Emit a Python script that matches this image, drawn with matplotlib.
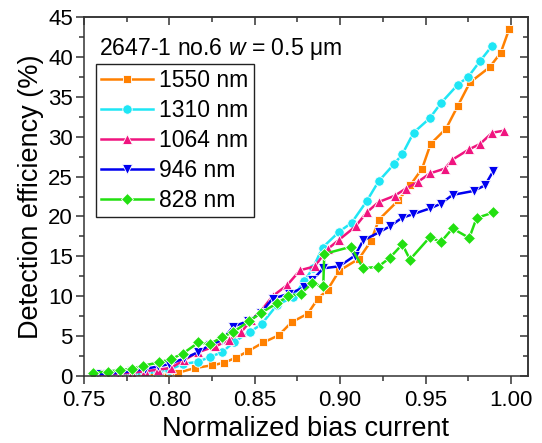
import numpy as np
import matplotlib
matplotlib.use('Agg')
import matplotlib.pyplot as plt
from matplotlib.ticker import MultipleLocator, NullFormatter

plt.rcParams['font.family'] = ['Liberation Sans', 'DejaVu Sans']
plt.rcParams['mathtext.fontset'] = 'custom'
plt.rcParams['mathtext.rm'] = 'Liberation Sans'
plt.rcParams['mathtext.it'] = 'Liberation Sans:italic'

# 1550 nm
x1550 = [0.757, 0.764, 0.771, 0.778, 0.786, 0.793, 0.799, 0.805, 0.815, 0.825,
         0.832, 0.839, 0.846, 0.855, 0.864, 0.8716, 0.881, 0.887, 0.8926, 0.8995,
         0.911, 0.918, 0.9227, 0.934, 0.941, 0.948, 0.953, 0.962, 0.969, 0.976,
         0.9875, 0.994, 0.999]
y1550 = [0.0, 0.0, 0.0, 0.05, 0.1, 0.15, 0.2, 0.4, 1.0, 1.34,
         1.66, 2.3, 3.1, 4.2, 5.1, 6.75, 7.8, 9.7, 10.8, 13.2,
         14.7, 16.9, 19.6, 22.0, 23.9, 26.0, 29.1, 31.0, 33.9, 36.8,
         38.7, 40.5, 43.5]

# 1310 nm
x1310 = [0.757, 0.764, 0.771, 0.778, 0.786, 0.7935, 0.800, 0.808, 0.817, 0.824,
         0.831, 0.838, 0.847, 0.854, 0.863, 0.8725, 0.879, 0.884, 0.8897, 0.8995,
         0.9067, 0.9155, 0.9225, 0.9317, 0.9364, 0.943, 0.9524, 0.959, 0.9688, 0.975,
         0.982, 0.989]
y1310 = [0.1, 0.15, 0.2, 0.25, 0.35, 0.5, 0.8, 1.5, 1.8, 2.4,
         3.0, 4.3, 5.5, 6.5, 8.9, 9.9, 11.9, 13.5, 16.1, 18.1,
         19.2, 21.9, 24.4, 26.6, 27.8, 30.5, 32.3, 34.2, 36.5, 37.5,
         39.5, 41.4]

# 1064 nm
x1064 = [0.757, 0.764, 0.771, 0.778, 0.786, 0.7935, 0.8007, 0.8086, 0.817, 0.8267,
         0.835, 0.842, 0.848, 0.854, 0.8604, 0.869, 0.8765, 0.8852, 0.8926, 0.8995,
         0.909, 0.9155, 0.9225, 0.932, 0.9385, 0.9453, 0.9526, 0.9613, 0.9656, 0.9754,
         0.982, 0.989, 0.996]
y1064 = [0.1, 0.2, 0.3, 0.4, 0.6, 0.8, 1.0, 2.0, 3.0, 3.7,
         4.5, 5.5, 7.0, 8.25, 10.0, 11.4, 13.25, 13.75, 15.9, 17.1,
         18.75, 20.5, 21.8, 22.6, 23.5, 24.3, 25.4, 26.0, 27.1, 28.4,
         29.1, 30.5, 30.75]

# 946 nm
x946 = [0.757, 0.764, 0.771, 0.778, 0.786, 0.7935, 0.800, 0.8086, 0.817, 0.8238,
        0.831, 0.8374, 0.8462, 0.8536, 0.8604, 0.870, 0.8788, 0.8837, 0.8901, 0.8995,
        0.9087, 0.9135, 0.9227, 0.929, 0.936, 0.9428, 0.9525, 0.959, 0.9658, 0.9783,
        0.9848, 0.9897]
y946 = [0.2, 0.3, 0.4, 0.6, 0.9, 1.2, 1.5, 2.2, 3.0, 3.9,
        4.5, 6.2, 6.9, 7.9, 9.7, 10.3, 11.1, 12.0, 13.5, 13.75,
        15.1, 17.0, 18.0, 18.75, 19.8, 20.3, 21.0, 21.6, 22.7, 23.2,
        23.9, 25.7]

# 828 nm
x828 = [0.755, 0.7642, 0.771, 0.7779, 0.7847, 0.7939, 0.8007, 0.8078, 0.817, 0.8238,
        0.831, 0.8374, 0.8468, 0.8536, 0.8628, 0.8696, 0.8768, 0.8835, 0.8901, 0.8907,
        0.9063, 0.9135, 0.9223, 0.929, 0.9364, 0.9409, 0.9525, 0.959, 0.9658, 0.9756,
        0.9799, 0.9897]
y828 = [0.4, 0.55, 0.75, 0.9, 1.3, 1.7, 2.1, 2.8, 4.2, 4.0,
        4.9, 5.5, 6.9, 7.9, 9.1, 10.0, 10.3, 11.6, 11.25, 15.3,
        16.2, 13.5, 13.7, 14.8, 16.5, 14.6, 17.4, 16.8, 18.5, 17.3,
        19.8, 20.5]

series = [
    (x1550, y1550, '1550 nm', '#FF8000', 's', 6.0),
    (x1310, y1310, '1310 nm', '#1EE6F5', 'o', 6.8),
    (x1064, y1064, '1064 nm', '#F0147F', '^', 7.2),
    (x946, y946, '946 nm', '#0000F0', 'v', 7.2),
    (x828, y828, '828 nm', '#22E010', 'D', 6.2),
]

fig = plt.figure(figsize=(5.42, 4.43), dpi=100)
ax = fig.add_axes([84 / 542, (443 - 376) / 443, 444 / 542, 359 / 443])

for x, y, lab, c, m, ms in series:
    ax.plot(x, y, color=c, lw=1.8, marker=m, ms=ms, mfc=c,
            mec='white', mew=0.6, label=lab)

ax.set_xlim(0.75, 1.01)
ax.set_ylim(0, 45)
ax.xaxis.set_major_locator(MultipleLocator(0.05))
ax.xaxis.set_minor_locator(MultipleLocator(0.025))
ax.yaxis.set_major_locator(MultipleLocator(5))
ax.yaxis.set_minor_locator(MultipleLocator(2.5))
ax.xaxis.set_major_formatter(plt.FuncFormatter(lambda v, p: f'{v:.2f}'))

tick_col = '#333333'
ax.tick_params(which='both', direction='out', labelsize=16, width=1.1,
               color=tick_col)
ax.tick_params(axis='x', pad=4)
ax.tick_params(axis='y', pad=2)
ax.tick_params(which='major', length=6)
ax.tick_params(which='minor', length=3.5)

# inward ticks on top and right, no labels
top = ax.secondary_xaxis('top')
top.xaxis.set_major_locator(MultipleLocator(0.05))
top.xaxis.set_minor_locator(MultipleLocator(0.025))
top.xaxis.set_major_formatter(NullFormatter())
right = ax.secondary_yaxis('right')
right.yaxis.set_major_locator(MultipleLocator(5))
right.yaxis.set_minor_locator(MultipleLocator(2.5))
right.yaxis.set_major_formatter(NullFormatter())
for sec in (top, right):
    sec.tick_params(which='both', direction='in', width=1.1, color=tick_col)
    sec.tick_params(which='major', length=6)
    sec.tick_params(which='minor', length=3.5)
    for s in sec.spines.values():
        s.set_linewidth(1.1)
        s.set_color(tick_col)

for s in ax.spines.values():
    s.set_linewidth(1.1)
    s.set_color(tick_col)

ax.set_xlabel('Normalized bias current', fontsize=19.5, labelpad=4)
ax.set_ylabel('Detection efficiency (%)', fontsize=19.5, labelpad=3)

ax.text(0.034, 0.895, '2647-1 no.6 $\\it{w}$ = 0.5 \u03bcm', transform=ax.transAxes,
        fontsize=16.6, va='baseline', ha='left')

leg = ax.legend(loc='upper left', bbox_to_anchor=(0.027, 0.869), borderaxespad=0,
                fontsize=16.5, numpoints=1, handlelength=2.25, handletextpad=0.3,
                labelspacing=0.3, borderpad=0.22, fancybox=False, framealpha=1)
leg.get_frame().set_edgecolor('#222222')
leg.get_frame().set_linewidth(1.0)

fig.savefig('out.png', dpi=100)
